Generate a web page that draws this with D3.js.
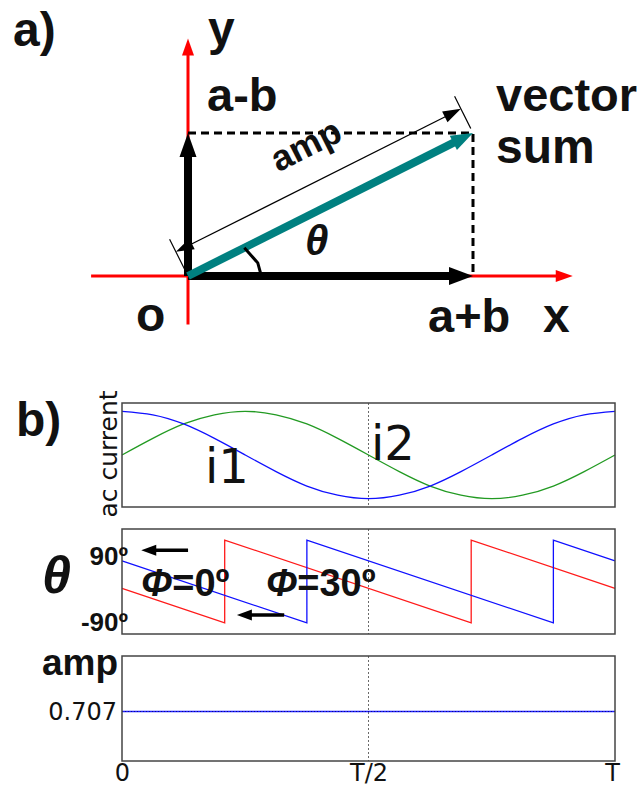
<!DOCTYPE html>
<html><head><meta charset="utf-8">
<script src="https://cdn.jsdelivr.net/npm/d3@7"></script>
<style>body{margin:0;background:#fff}svg{display:block}</style>
</head><body>
<script>
// ---------------- DATA ----------------
// panel a: phasor components (a+b along x, a-b along y)
const phasorX = 1.0;
const phasorY = 0.5;
const axisSpanX = [-0.34, 1.35];
const axisSpanY = [-0.17, 0.83];

// panel b: time samples (fraction of period T)
const tSamples = [0,0.0625,0.125,0.1875,0.25,0.3125,0.375,0.4375,0.5,0.5625,0.625,0.6875,0.75,0.8125,0.875,0.9375,1];
const i1Values = [1,0.92,0.71,0.38,0,-0.38,-0.71,-0.92,-1,-0.92,-0.71,-0.38,0,0.38,0.71,0.92,1];
const i2Values = [0,0.38,0.71,0.92,1,0.92,0.71,0.38,0,-0.38,-0.71,-0.92,-1,-0.92,-0.71,-0.38,0];

const thetaT_phi0  = [0,0.2083,0.2083,0.7083,0.7083,1];
const theta_phi0   = [-15,-90,90,-90,90,-15];
const thetaT_phi30 = [0,0.375,0.375,0.875,0.875,1];
const theta_phi30  = [45,-90,90,-90,90,45];

const ampT = [0,1];
const ampValues = [0.707,0.707];

const timeTicks = [0,0.5,1];
const timeTickLabels = ["0","T/2","T"];
const thetaTicks = [90,-90];
const thetaTickLabels = ["90º","-90º"];
const ampTicks = [0.707];
const ampTickLabels = ["0.707"];

// annotation arrows in theta panel (t from -> t to, at theta level)
const annotArrowT = [[0.134,0.039],[0.329,0.233]];
const annotArrowTheta = [68,-73];

// ---------------- DRAW ----------------
const W=644,H=792;
const svg=d3.select("body").append("svg").attr("width",W).attr("height",H);
const BOLD="'Liberation Sans', Arial, sans-serif";
const MPL="'DejaVu Sans', sans-serif";

function arrow(g,p1,p2,o){
  const dx=p2[0]-p1[0],dy=p2[1]-p1[1],L=Math.hypot(dx,dy),ux=dx/L,uy=dy/L;
  const bx=p2[0]-ux*o.head,by=p2[1]-uy*o.head;
  let s=p1;
  if(o.both){
    const cx=p1[0]+ux*o.head,cy=p1[1]+uy*o.head;
    g.append("path").attr("d",`M${p1[0]},${p1[1]}L${cx-uy*o.hw},${cy+ux*o.hw}L${cx+uy*o.hw},${cy-ux*o.hw}Z`).attr("fill",o.color);
    s=[cx-ux,cy-uy];
  }
  g.append("line").attr("x1",s[0]).attr("y1",s[1]).attr("x2",bx+ux).attr("y2",by+uy)
    .attr("stroke",o.color).attr("stroke-width",o.width);
  g.append("path").attr("d",`M${p2[0]},${p2[1]}L${bx-uy*o.hw},${by+ux*o.hw}L${bx+uy*o.hw},${by-ux*o.hw}Z`).attr("fill",o.color);
}

// ---- panel a ----
const xA=d3.scaleLinear().domain([0,1]).range([188,473]);
const yA=d3.scaleLinear().domain([0,0.5]).range([276,133]);
const gA=svg.append("g");
const O=[xA(0),yA(0)];
// red axes
arrow(gA,[xA(axisSpanX[0]),yA(0)],[xA(axisSpanX[1]),yA(0)],{color:"#ff0000",width:3,head:17,hw:6});
arrow(gA,[xA(0),yA(axisSpanY[0])],[xA(0),yA(axisSpanY[1])],{color:"#ff0000",width:3,head:17,hw:6});
// dashed projection lines
gA.append("path").attr("d",`M${xA(0)},${yA(phasorY)}H${xA(phasorX)}V${yA(0)}`)
  .attr("fill","none").attr("stroke","#000").attr("stroke-width",3).attr("stroke-dasharray","8,5");
// black component arrows
arrow(gA,O,[xA(phasorX),yA(0)],{color:"#000",width:8,head:24,hw:9});
arrow(gA,O,[xA(0),yA(phasorY)],{color:"#000",width:8,head:24,hw:8.5});
// teal vector sum
arrow(gA,O,[xA(phasorX),yA(phasorY)],{color:"#008080",width:8,head:22,hw:8});
// amp dimension line
{
  const P=[xA(phasorX),yA(phasorY)];
  const dx=P[0]-O[0],dy=P[1]-O[1],L=Math.hypot(dx,dy),ux=dx/L,uy=dy/L;
  const nx=uy,ny=-ux; // perpendicular (up-left)
  const off=27;
  const a=[O[0]+nx*off,O[1]+ny*off], b=[P[0]+nx*off,P[1]+ny*off];
  arrow(gA,a,b,{color:"#000",width:1.3,head:18,hw:6,both:true});
  [[O,5,41],[P,5,41]].forEach(([p,s,e])=>{
    gA.append("line").attr("x1",p[0]+nx*s).attr("y1",p[1]+ny*s).attr("x2",p[0]+nx*e).attr("y2",p[1]+ny*e)
      .attr("stroke","#000").attr("stroke-width",1.2);
  });
  const c=[O[0]+ux*164+nx*52,O[1]+uy*164+ny*52];
  const ang=Math.atan2(dy,dx)*180/Math.PI;
  gA.append("text").attr("transform",`translate(${c[0]},${c[1]}) rotate(${ang})`)
    .attr("text-anchor","middle").attr("font-family",BOLD).attr("font-weight","bold")
    .attr("font-size",36).attr("fill","#111").text("amp");
  // angle mark
  const th=Math.atan2(-dy,dx);
  const pts=[[63,th],[71,th*0.4],[73,0.02]].map(([r,t])=>[O[0]+r*Math.cos(t),O[1]-r*Math.sin(t)]);
  gA.append("path").attr("d",d3.line()(pts)).attr("fill","none").attr("stroke","#000").attr("stroke-width",3);
}
function T(x,y,s,opt={}){
  return svg.append("text").attr("x",x).attr("y",y).attr("font-family",opt.ff||BOLD)
    .attr("font-weight",opt.fw||"bold").attr("font-style",opt.fs||"normal")
    .attr("font-size",opt.size||46).attr("text-anchor",opt.anchor||"start").attr("fill","#111").text(s);
}
T(13,46,"a)",{size:48});
T(208,45,"y",{size:48});
T(207,111,"a-b",{size:47});
T(496,111,"vector",{size:47});
T(496,163,"sum",{size:48});
T(305,255,"θ",{fs:"italic",size:42});
T(136,331,"o",{size:48});
T(428,332,"a+b",{size:47});
T(543,332,"x",{size:48});

// ---- panel b ----
const xT=d3.scaleLinear().domain([0,1]).range([122,615]);
const panels=[
  {top:403,bottom:507,domain:[-1.19,1.19]},
  {top:529,bottom:634,domain:[-114,114]},
  {top:656,bottom:761,domain:[0,1.5]}
];
const ys=panels.map(p=>d3.scaleLinear().domain(p.domain).range([p.bottom,p.top]));
panels.forEach(p=>{
  svg.append("line").attr("x1",xT(0.5)).attr("x2",xT(0.5)).attr("y1",p.top).attr("y2",p.bottom)
    .attr("stroke","#444").attr("stroke-width",0.8).attr("stroke-dasharray","2,2");
});
// ac currents
const lineAC=d3.line().x(d=>xT(d[0])).y(d=>ys[0](d[1])).curve(d3.curveNatural);
svg.append("path").attr("d",lineAC(tSamples.map((t,i)=>[t,i2Values[i]])))
  .attr("fill","none").attr("stroke","#229a22").attr("stroke-width",1.3);
svg.append("path").attr("d",lineAC(tSamples.map((t,i)=>[t,i1Values[i]])))
  .attr("fill","none").attr("stroke","#1010ff").attr("stroke-width",1.3);
// theta
const lineTh=d3.line().x(d=>xT(d[0])).y(d=>ys[1](d[1]));
svg.append("path").attr("d",lineTh(thetaT_phi0.map((t,i)=>[t,theta_phi0[i]])))
  .attr("fill","none").attr("stroke","#ff1a1a").attr("stroke-width",1.3);
svg.append("path").attr("d",lineTh(thetaT_phi30.map((t,i)=>[t,theta_phi30[i]])))
  .attr("fill","none").attr("stroke","#1010ff").attr("stroke-width",1.3);
// amp
const lineAmp=d3.line().x(d=>xT(d[0])).y(d=>ys[2](d[1]));
svg.append("path").attr("d",lineAmp(ampT.map((t,i)=>[t,ampValues[i]])))
  .attr("fill","none").attr("stroke","#2020ff").attr("stroke-width",1.6);
svg.append("path").attr("d",lineAmp(ampT.map((t,i)=>[t,ampValues[i]])))
  .attr("fill","none").attr("stroke","#000060").attr("stroke-width",0.7).attr("stroke-dasharray","1,2");
// frames
panels.forEach(p=>{
  svg.append("rect").attr("x",xT(0)).attr("y",p.top).attr("width",xT(1)-xT(0)).attr("height",p.bottom-p.top)
    .attr("fill","none").attr("stroke","#444").attr("stroke-width",1.5);
});
// axes
const axT=svg.append("g").attr("transform",`translate(0,${panels[2].bottom})`)
  .call(d3.axisBottom(xT).tickValues(timeTicks).tickFormat((d,i)=>timeTickLabels[i]).tickSize(0).tickPadding(3));
axT.select(".domain").remove();
axT.selectAll("text").attr("font-family",MPL).attr("font-size",24).attr("fill","#111");
axT.selectAll(".tick").filter((d,i)=>i===2).select("text").attr("dx",-3);
const axTh=svg.append("g").attr("transform",`translate(128,0)`)
  .call(d3.axisLeft(ys[1]).tickValues(thetaTicks).tickFormat((d,i)=>thetaTickLabels[i]).tickSize(0).tickPadding(0));
axTh.select(".domain").remove();
axTh.selectAll("text").attr("font-family",BOLD).attr("font-weight","bold").attr("font-size",26).attr("fill","#111")
  .attr("dy",(d)=>d>0?"0.95em":"0.3em");
const axA=svg.append("g").attr("transform",`translate(117,0)`)
  .call(d3.axisLeft(ys[2]).tickValues(ampTicks).tickFormat((d,i)=>ampTickLabels[i]).tickSize(0).tickPadding(0));
axA.select(".domain").remove();
axA.selectAll("text").attr("font-family",MPL).attr("font-size",24).attr("fill","#111");

// annotation arrows
annotArrowT.forEach((tt,i)=>{
  arrow(svg,[xT(tt[0]),ys[1](annotArrowTheta[i])],[xT(tt[1]),ys[1](annotArrowTheta[i])],{color:"#000",width:3.5,head:15,hw:5.5});
});

// texts panel b
T(16,436,"b)",{size:48});
svg.append("text").attr("transform","translate(117,454) rotate(-90)").attr("text-anchor","middle")
  .attr("font-family",MPL).attr("font-size",25).attr("fill","#111").text("ac current");
T(205,483,"i1",{ff:MPL,fw:"normal",size:48});
T(371,460,"i2",{ff:MPL,fw:"normal",size:48});
T(42,593,"θ",{fs:"italic",size:52});
const t1=T(141,596,"",{size:38});
t1.append("tspan").attr("font-style","italic").text("Φ");
t1.append("tspan").text("=0º");
const t2=T(266,596,"",{size:38});
t2.append("tspan").attr("font-style","italic").text("Φ");
t2.append("tspan").text("=30º");
T(118,675,"amp",{size:37,anchor:"end"});
</script>
</body></html>
